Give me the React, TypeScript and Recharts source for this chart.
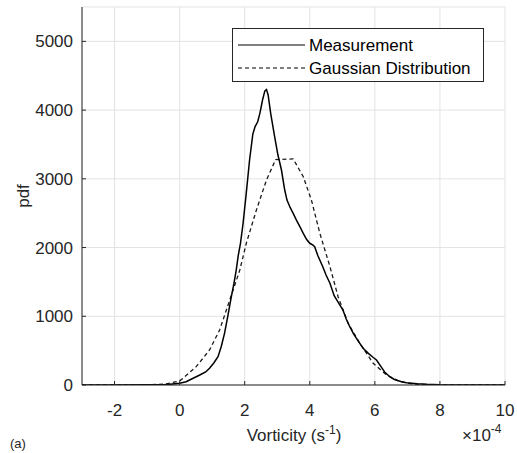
// Vorticity pdf: measured histogram vs fitted Gaussian (MATLAB-style box plot)

import { LineChart, Line, XAxis, YAxis, CartesianGrid } from "recharts";

// x in units of 1e-4 s^-1
const measX = [
  -3, -2, -1, -0.5, -0.3, 0, 0.2, 0.4, 0.62, 0.8, 0.92, 1.05, 1.18, 1.28, 1.38, 1.48, 1.59, 1.67,
  1.74, 1.8, 1.87, 1.95, 2.05, 2.15, 2.25, 2.32, 2.4, 2.47, 2.55, 2.62, 2.67, 2.72, 2.8, 2.92, 3.02,
  3.13, 3.23, 3.3, 3.4, 3.49, 3.59, 3.7, 3.8, 3.9, 4.0, 4.1, 4.15, 4.25, 4.4, 4.5, 4.62, 4.75, 4.88,
  5.02, 5.12, 5.23, 5.35, 5.5, 5.64, 5.8, 5.95, 6.05, 6.2, 6.3, 6.46, 6.6, 6.8, 6.97, 7.3, 7.6, 8,
  9, 10,
];
const measY = [
  0, 0, 2, 5, 10, 25, 48, 95, 145, 190, 243, 320, 412, 560, 752, 1000, 1285, 1480,
  1673, 1880, 2060, 2350, 2800, 3274, 3650, 3760, 3830, 3960, 4150, 4280, 4300, 4220, 3950, 3613, 3350,
  3128, 2837, 2690, 2580, 2498, 2400, 2300, 2207, 2120, 2062, 2037, 2012, 1880, 1720, 1600, 1480, 1300, 1200,
  1091, 960, 848, 740, 630, 534, 460, 400, 364, 260, 190, 121, 80, 50, 34, 18, 10, 4,
  1, 0,
];

const gaussX = [
  -3, -2, -1, -0.41, 0, 0.1, 0.51, 0.92, 1.23, 1.54, 1.85, 2.05, 2.36, 2.67, 2.95, 3.49, 3.8, 4.05,
  4.31, 4.62, 4.87, 5.18, 5.54, 5.95, 6.36, 6.77, 7.2, 8, 10,
];
const gaussY = [
  0, 0, 1, 15, 60, 97, 267, 509, 800, 1237, 1673, 2062, 2546, 2983, 3280, 3290, 3031, 2692,
  2207, 1722, 1285, 897, 606, 315, 145, 48, 12, 0, 0,
];

const xTicks = [-2, 0, 2, 4, 6, 8, 10];
const yTicks = [0, 1000, 2000, 3000, 4000, 5000];

const measurement = measX.map((x, i) => ({ x, y: measY[i] }));
const gaussian = gaussX.map((x, i) => ({ x, y: gaussY[i] }));

const FONT = "'Liberation Sans', Arial, Helvetica, sans-serif";
const INK = "#262626";
const tickStyle = { fontSize: 17, fill: INK, fontFamily: FONT };

export default function App() {
  return (
    <div
      style={{
        position: "absolute",
        left: 0,
        top: 0,
        width: 517,
        height: 453,
        overflow: "hidden",
        background: "#fff",
        fontFamily: FONT,
      }}
    >
      <LineChart width={517} height={453} margin={{ top: 7, right: 12, bottom: 38, left: 0 }}>
        <CartesianGrid stroke="#e3e3e3" strokeWidth={1} />
        <XAxis
          type="number"
          dataKey="x"
          domain={[-3, 10]}
          ticks={xTicks}
          allowDataOverflow
          height={30}
          tickSize={-4}
          tickMargin={23}
          tick={tickStyle}
          stroke={INK}
        />
        <XAxis
          xAxisId="top"
          orientation="top"
          type="number"
          dataKey="x"
          domain={[-3, 10]}
          ticks={xTicks}
          allowDataOverflow
          height={0}
          tickSize={-4}
          tick={() => <g />}
          stroke={INK}
        />
        <YAxis
          type="number"
          domain={[0, 5500]}
          ticks={yTicks}
          allowDataOverflow
          width={82}
          tickSize={-4}
          tickMargin={13}
          tick={tickStyle}
          stroke={INK}
        />
        <YAxis
          yAxisId="right"
          orientation="right"
          type="number"
          domain={[0, 5500]}
          ticks={yTicks}
          allowDataOverflow
          width={0}
          tickSize={-4}
          tick={() => <g />}
          stroke={INK}
        />
        <Line
          data={gaussian}
          dataKey="y"
          type="linear"
          stroke="#1a1a1a"
          strokeWidth={1.3}
          strokeDasharray="4 3"
          dot={false}
          isAnimationActive={false}
        />
        <Line
          data={measurement}
          dataKey="y"
          type="linear"
          stroke="#000"
          strokeWidth={1.5}
          dot={false}
          isAnimationActive={false}
        />
      </LineChart>

      {/* legend, axis titles and exponent */}
      <svg
        width={517}
        height={453}
        style={{ position: "absolute", left: 0, top: 0, pointerEvents: "none" }}
        fontFamily={FONT}
      >
        <rect x={232.5} y={28.5} width={251} height={53} fill="#fff" stroke={INK} strokeWidth={1} />
        <line x1={238} y1={45} x2={305} y2={45} stroke="#000" strokeWidth={1} />
        <line x1={238} y1={68} x2={305} y2={68} stroke="#000" strokeWidth={1.2} strokeDasharray="4 3" />
        <text x={309} y={51} fontSize={17} fill="#000">Measurement</text>
        <text x={309} y={74} fontSize={17} fill="#000">Gaussian Distribution</text>

        <text x={294} y={441} fontSize={17} fill={INK} textAnchor="middle">
          Vorticity (s<tspan dy={-7} fontSize={12}>-1</tspan><tspan dy={7}>)</tspan>
        </text>
        <text x={462} y={441} fontSize={17} fill={INK}>
          ×10<tspan dy={-8} fontSize={12}>-4</tspan>
        </text>
        <text transform="translate(29,196) rotate(-90)" fontSize={17} fill={INK} textAnchor="middle">
          pdf
        </text>
        <text x={10} y={448} fontSize={13} fill={INK}>(a)</text>
      </svg>
    </div>
  );
}
